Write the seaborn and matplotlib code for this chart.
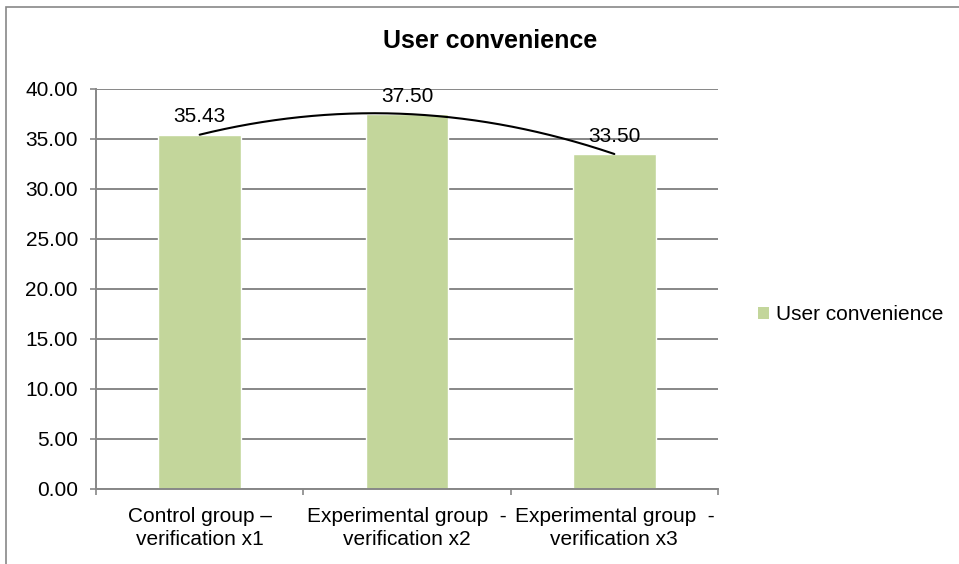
import numpy as np
import pandas as pd
import matplotlib
matplotlib.use("Agg")
import matplotlib.pyplot as plt
import seaborn as sns
from matplotlib.patches import Patch, Rectangle
from matplotlib.ticker import FormatStrFormatter, FixedLocator

# Data
categories = [
    "Control group –\nverification x1",
    "Experimental group  -\nverification x2",
    "Experimental group  -\nverification x3",
]
values = [35.43, 37.50, 33.50]
series_name = "User convenience"

df = pd.DataFrame({"group": categories, "score": values})

sns.set_theme(style="white")
plt.rcParams["font.family"] = ["Liberation Sans", "DejaVu Sans"]
plt.rcParams["text.color"] = "black"

bar_color = "#C3D69B"
grid_color = "#878787"

fig = plt.figure(figsize=(9.59, 5.64), dpi=100)
ax = fig.add_axes([0.1001, 0.1330, 0.6486, 0.7092])

sns.barplot(data=df, x="group", y="score", color=bar_color, width=0.4,
            saturation=1, ax=ax, zorder=2)

# value labels above bars
for i, v in enumerate(values):
    ax.annotate(f"{v:.2f}", xy=(i, v), xytext=(0, 6), textcoords="offset points",
                ha="center", va="bottom", fontsize=15, color="black", zorder=4)

# smoothed trend curve through the bar tops
pos = np.arange(len(values))
coef = np.polyfit(pos, values, 2)
xs = np.linspace(pos[0], pos[-1], 200)
ax.plot(xs, np.polyval(coef, xs), color="black", lw=1.5, zorder=3)

ax.set_xlim(-0.5, len(values) - 0.5)
ax.set_ylim(0, 40)
ax.yaxis.set_major_locator(FixedLocator(np.arange(0, 40.1, 5)))
ax.yaxis.set_major_formatter(FormatStrFormatter("%.2f"))
ax.yaxis.grid(True, color=grid_color, lw=1.4, zorder=0)
ax.set_axisbelow(True)

ax.set_xlabel("")
ax.set_ylabel("")
for s in ["top", "right"]:
    ax.spines[s].set_visible(False)
for s in ["left", "bottom"]:
    ax.spines[s].set_color(grid_color)
    ax.spines[s].set_linewidth(1.4)

ax.tick_params(axis="y", which="major", direction="out", length=4.5, width=1.2,
               color=grid_color, pad=8.5, labelsize=15, labelcolor="black", left=True)
ax.xaxis.set_minor_locator(FixedLocator(np.arange(-0.5, len(values), 1.0)))
ax.tick_params(axis="x", which="major", length=0, pad=13, labelsize=15, labelcolor="black")
ax.tick_params(axis="x", which="minor", direction="out", length=4.5, width=1.2,
               color=grid_color, bottom=True)
for lbl in ax.get_xticklabels():
    lbl.set_linespacing(1.25)

fig.text(0.511, 0.927, series_name, ha="center", va="center",
         fontsize=18, fontweight="bold", color="black")

handle = Patch(facecolor=bar_color, edgecolor="none")
fig.legend([handle], [series_name], loc="center left",
           bbox_to_anchor=(758 / 959, 1 - 315 / 564), frameon=False,
           fontsize=15, handlelength=0.55, handleheight=0.55,
           handletextpad=0.3, borderpad=0, borderaxespad=0, labelcolor="black")

# chart-area border
fig.add_artist(Rectangle((6 / 959, -0.1), 1.2, 1.1 - 6.5 / 564, transform=fig.transFigure,
                         fill=False, edgecolor=grid_color, lw=1.2))

fig.savefig("out.png", dpi=100)
plt.close(fig)
